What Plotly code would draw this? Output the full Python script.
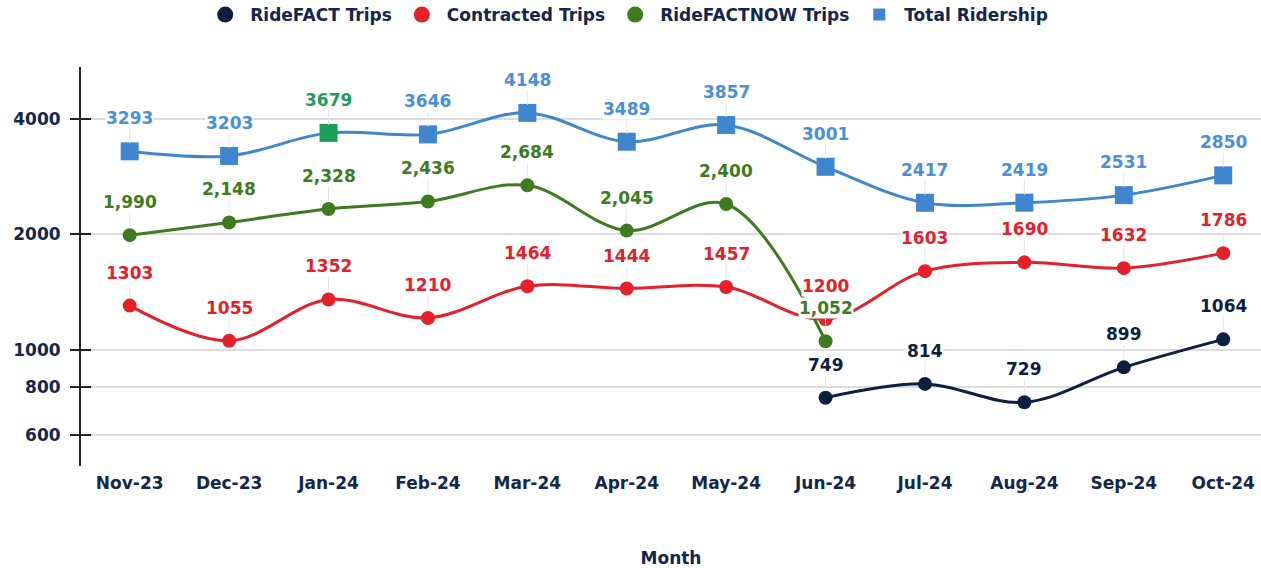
import math
import plotly.graph_objects as go

months = ["Nov-23", "Dec-23", "Jan-24", "Feb-24", "Mar-24", "Apr-24",
          "May-24", "Jun-24", "Jul-24", "Aug-24", "Sep-24", "Oct-24"]
ridefact_trips = [None, None, None, None, None, None, None, 749, 814, 729, 899, 1064]
contracted_trips = [1303, 1055, 1352, 1210, 1464, 1444, 1457, 1200, 1603, 1690, 1632, 1786]
ridefactnow_trips = [1990, 2148, 2328, 2436, 2684, 2045, 2400, 1052, None, None, None, None]
total_ridership = [3293, 3203, 3679, 3646, 4148, 3489, 3857, 3001, 2417, 2419, 2531, 2850]
y_tick_values = [600, 800, 1000, 2000, 4000]
highlight_month = "Jan-24"

FONT = "DejaVu Sans"
NAVY = "#14264a"
C_FACT = "#0c1f3f"
C_CONTR = "#e5202b"
C_NOW = "#3e7b1f"
C_TOTAL = "#3f86cf"
C_TOTAL_LBL = "#4a90d8"
C_HI = "#1b9e57"
GRID = "#dcdcdc"

fig = go.Figure()

series = [
    ("RideFACT Trips", ridefact_trips, C_FACT, C_FACT, "circle", 14, False, 16),
    ("Contracted Trips", contracted_trips, C_CONTR, C_CONTR, "circle", 14, False, 16),
    ("RideFACTNOW Trips", ridefactnow_trips, C_NOW, C_NOW, "circle", 14, True, 16),
    ("Total Ridership", total_ridership, C_TOTAL, C_TOTAL_LBL, "square", 18, False, 12),
]

annotations = []
for name, vals, col, lblcol, sym, size, comma, lsize in series:
    mcolors = col
    if name == "Total Ridership":
        mcolors = [C_HI if m == highlight_month else col for m in months]
    fig.add_trace(go.Scatter(
        x=months, y=vals, name=name, mode="lines+markers",
        line=dict(color=col, width=3, shape="spline", smoothing=1),
        marker=dict(color=mcolors, size=size, symbol=sym),
        connectgaps=False, showlegend=False, legendgroup=name,
    ))
    # legend-only entry (marker symbol only, like the reference legend)
    fig.add_trace(go.Scatter(
        x=[None], y=[None], name=name, mode="markers", legendgroup=name,
        marker=dict(color=col, size=lsize, symbol=sym), hoverinfo="skip",
    ))
    for m, v in zip(months, vals):
        if v is None:
            continue
        txt = f"{v:,}" if comma else f"{v}"
        tc = lblcol
        if name == "Total Ridership" and m == highlight_month:
            tc = C_HI
        annotations.append(dict(
            x=m, y=math.log10(v), xref="x", yref="y",
            text=txt, showarrow=True, arrowhead=0, arrowwidth=1,
            arrowcolor="#e4e4e4", ax=0, ay=-33, standoff=8,
            font=dict(family=FONT, size=17, color=tc, weight="bold"),
            bgcolor="rgba(255,255,255,1)", borderpad=0,
        ))

# invisible helper trace for the inner tick stubs on the overlay axis
fig.add_trace(go.Scatter(x=[months[0]], y=[y_tick_values[0]], yaxis="y2",
                         mode="markers", marker=dict(size=0, opacity=0),
                         showlegend=False, hoverinfo="skip"))

yr = [math.log10(497), math.log10(5466)]

fig.update_layout(
    width=1261, height=568,
    margin=dict(l=81, r=0, t=67, b=102, autoexpand=False),
    paper_bgcolor="white", plot_bgcolor="white",
    font=dict(family=FONT, color=NAVY),
    showlegend=True,
    legend=dict(orientation="h", xref="container", yref="container",
                x=0.497, xanchor="center", y=0.9736, yanchor="middle",
                itemwidth=40,
                font=dict(family=FONT, size=17, color=NAVY, weight="bold"),
                itemclick=False, traceorder="normal"),
    xaxis=dict(type="category", range=[-0.49, 11.38], showgrid=False, showline=False,
               automargin=False, ticks="", ticklabelstandoff=5,
               tickfont=dict(family=FONT, size=17, color=NAVY, weight="bold"),
               title=dict(text="Month", standoff=64,
                          font=dict(family=FONT, size=17, color=NAVY, weight="bold"))),
    yaxis=dict(type="log", range=yr, tickvals=y_tick_values,
               ticktext=[str(v) for v in y_tick_values], automargin=False,
               showgrid=True, gridcolor=GRID, gridwidth=1.5,
               showline=True, linecolor="#222222", linewidth=2,
               ticks="outside", ticklen=9, tickwidth=2, tickcolor="#222222",
               ticklabelstandoff=6,
               tickfont=dict(family=FONT, size=17, color=NAVY, weight="bold"),
               zeroline=False),
    yaxis2=dict(type="log", range=yr, overlaying="y", side="left", automargin=False,
                tickvals=y_tick_values, showticklabels=False,
                ticks="inside", ticklen=10, tickwidth=2, tickcolor="#222222",
                showgrid=False, showline=False, zeroline=False),
    annotations=annotations,
)

fig.write_html("out.html", config={"displayModeBar": False},
               post_script="document.body.style.margin='0px';")
